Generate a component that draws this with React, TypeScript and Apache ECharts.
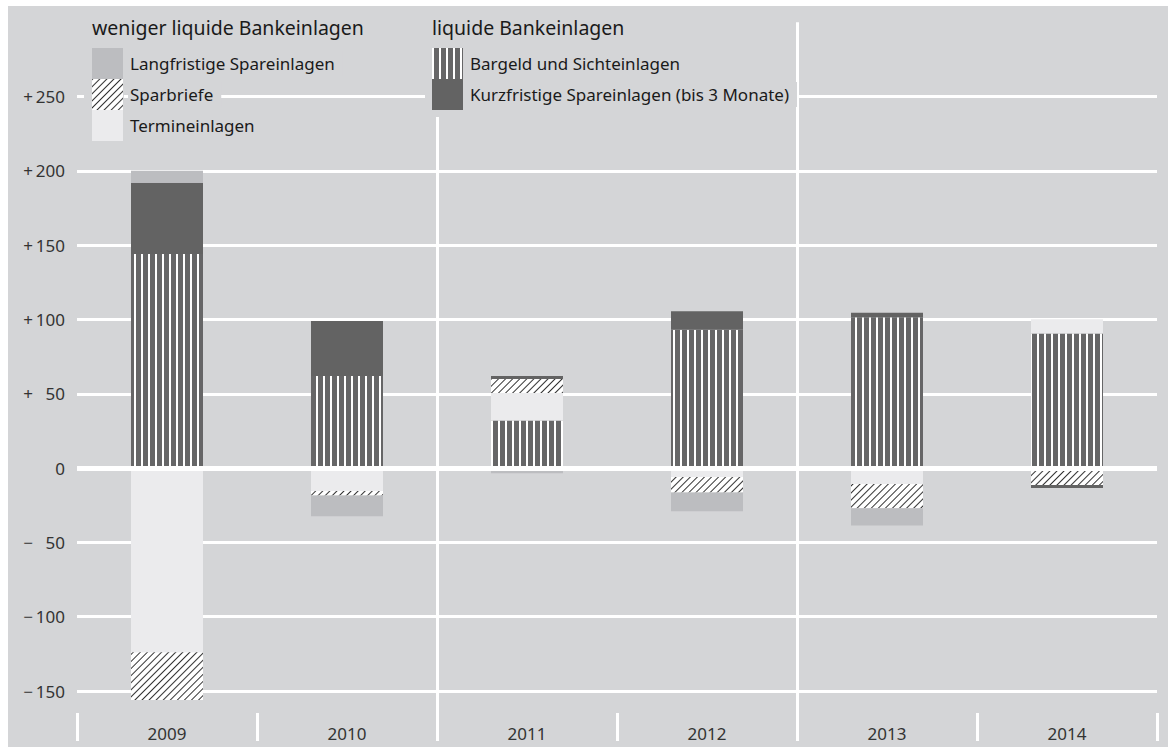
import React, { useEffect, useRef } from "react";
import * as echarts from "echarts";

const years = ["2009", "2010", "2011", "2012", "2013", "2014"];
const bargeld = [144, 62, 32, 93, 101.5, 90.5];
const termin = [-124, -15.5, 18.5, -6, -10.8, 9.7];
const spar = [-32, -3, 9.5, -10.4, -16.2, -11.4];
const kurz = [48, 37, 2, 12.5, 3, -2];
const lang = [8, -14, -3.5, -12.6, -11.6, 0];

const yTickValues = [-150, -100, -50, 0, 50, 100, 150, 200, 250];
const yTickLabels = [
  "\u2212\u2009150",
  "\u2212\u2009100",
  "\u2212\u2009\u200750",
  "0",
  "+\u2009\u200750",
  "+\u2009100",
  "+\u2009150",
  "+\u2009200",
  "+\u2009250",
];
const groupBoundaries = [2, 4];

const titleLeft = "weniger liquide Bankeinlagen";
const titleRight = "liquide Bankeinlagen";
const N_LANG = "Langfristige Spareinlagen";
const N_SPAR = "Sparbriefe";
const N_TERMIN = "Termineinlagen";
const N_BARGELD = "Bargeld und Sichteinlagen";
const N_KURZ = "Kurzfristige Spareinlagen (bis 3 Monate)";

const BG = "#d4d5d7";
const FONT = "Noto Sans";

export default function App() {
  const ref = useRef<HTMLDivElement>(null);
  useEffect(() => {
    if (!ref.current) return;
    const chart = echarts.init(ref.current, null, { renderer: "svg" });
    const legendText = {
      fontSize: 17,
      color: "#1a1a1a",
      fontFamily: FONT,
      backgroundColor: BG,
      padding: [4, 8, 4, 2],
    };
    const barBase = {
      type: "bar",
      stack: "total",
      barWidth: "40%",
      xAxisIndex: 0,
      yAxisIndex: 0,
      clip: false,
      emphasis: { disabled: true },
    };
    chart.setOption({
      animation: false,
      textStyle: { fontFamily: FONT },
      title: [
        { text: titleLeft, left: 84, top: 11, padding: 0, textStyle: { fontSize: 19.5, fontWeight: "normal", color: "#1a1a1a", fontFamily: FONT } },
        { text: titleRight, left: 424, top: 11, padding: 0, textStyle: { fontSize: 19.5, fontWeight: "normal", color: "#1a1a1a", fontFamily: FONT } },
      ],
      legend: [
        {
          data: [N_LANG, N_SPAR, N_TERMIN],
          orient: "vertical",
          left: 84,
          top: 42,
          padding: 0,
          itemWidth: 31,
          itemHeight: 31,
          itemGap: 0,
          icon: "rect",
          selectedMode: false,
          textStyle: legendText,
        },
        {
          data: [N_BARGELD, N_KURZ],
          orient: "vertical",
          left: 424,
          top: 42,
          padding: 0,
          itemWidth: 31,
          itemHeight: 31,
          itemGap: 0,
          icon: "rect",
          selectedMode: false,
          textStyle: legendText,
        },
      ],
      graphic: [
        { type: "rect", z: 1, silent: true, shape: { x: 76, y: 36, width: 40, height: 105 }, style: { fill: BG } },
        { type: "rect", z: 1, silent: true, shape: { x: 417, y: 8, width: 49, height: 103 }, style: { fill: BG } },
      ],
      grid: { left: 69, right: 11, top: 16.2, bottom: 56, containLabel: false },
      xAxis: [
        {
          type: "category",
          data: years,
          position: "bottom",
          offset: 22,
          axisLine: { show: false, onZero: false },
          axisTick: { show: true, length: 28, lineStyle: { color: "#ffffff", width: 3 } },
          axisLabel: { fontSize: 17, color: "#333333", margin: 12, fontFamily: FONT },
          splitLine: { show: false },
        },
        {
          type: "value",
          min: 0,
          max: 6,
          interval: 2,
          position: "bottom",
          offset: 0,
          axisLine: { show: false, onZero: false },
          axisLabel: { show: false },
          axisTick: { show: true, length: 22, customValues: groupBoundaries, lineStyle: { color: "#ffffff", width: 3 } },
          splitLine: { show: true, lineStyle: { color: "#ffffff", width: 3 } },
        },
      ],
      yAxis: {
        type: "value",
        min: -150,
        max: 300,
        interval: 50,
        axisLine: { show: false },
        axisTick: { show: false },
        axisLabel: {
          fontSize: 17,
          color: "#333333",
          margin: 12,
          fontFamily: FONT,
          showMaxLabel: false,
          formatter: (v: number) => {
            const i = yTickValues.indexOf(v);
            return i >= 0 ? yTickLabels[i] : "";
          },
        },
        splitLine: { show: true, showMaxLine: false, lineStyle: { color: "#ffffff", width: 3 } },
      },
      series: [
        {
          ...barBase,
          name: N_BARGELD,
          data: bargeld,
          itemStyle: {
            color: "#666667",
            decal: { symbol: "rect", symbolSize: 1, color: "#ffffff", dashArrayX: [1.4, 4.27], dashArrayY: [5, 0], rotation: 0 },
          },
          markLine: {
            silent: true,
            symbol: ["none", "none"],
            label: { show: false },
            z: 5,
            lineStyle: { color: "#ffffff", width: 5, type: "solid" },
            emphasis: { disabled: true },
            data: [{ yAxis: 0 }],
          },
        },
        {
          ...barBase,
          name: N_TERMIN,
          data: termin,
          itemStyle: { color: "#ebebed" },
        },
        {
          ...barBase,
          name: N_SPAR,
          data: spar,
          itemStyle: {
            color: "#ffffff",
            decal: { symbol: "rect", symbolSize: 1, color: "#333333", dashArrayX: [1, 0], dashArrayY: [1, 3.3], rotation: -Math.PI / 4 },
          },
        },
        {
          ...barBase,
          name: N_KURZ,
          data: kurz,
          itemStyle: { color: "#636363" },
        },
        {
          ...barBase,
          name: N_LANG,
          data: lang,
          itemStyle: { color: "#bcbdc0" },
        },
      ],
    });
    return () => chart.dispose();
  }, []);
  return (
    <div
      ref={ref}
      style={{ position: "absolute", left: 8, top: 6, width: 1160, height: 741, background: BG }}
    />
  );
}
